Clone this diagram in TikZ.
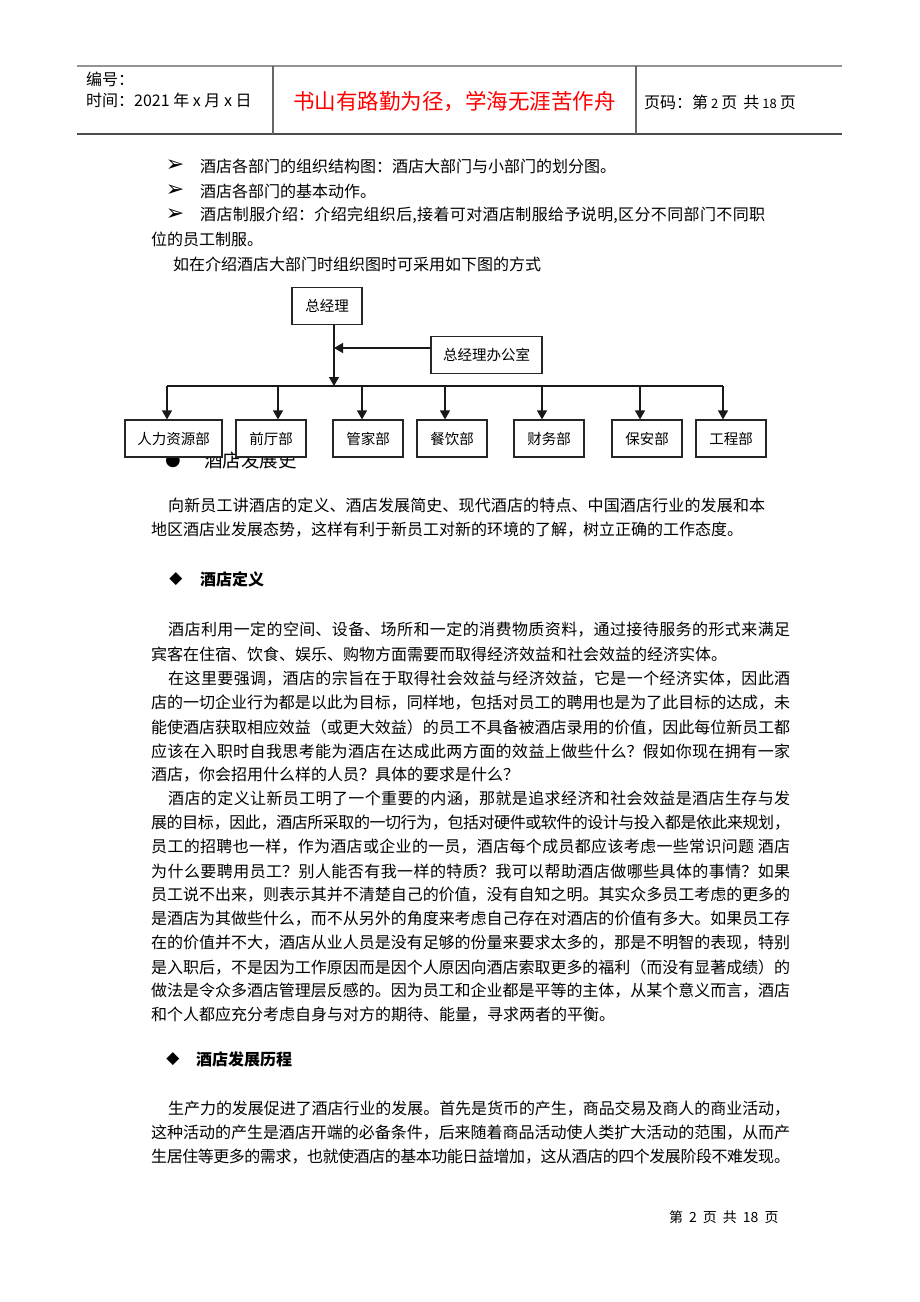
\documentclass[tikz,border=0pt]{standalone}
\usepackage{fontspec}
\setmainfont{Noto Sans CJK SC}
\newfontfamily\dejavu{DejaVu Sans}
\usetikzlibrary{arrows.meta}
\XeTeXlinebreaklocale "zh"
\XeTeXlinebreakskip=0pt plus 4pt minus 0.6pt
\newcommand{\jline}[2]{\parbox{#1pt}{\tolerance=10000\hbadness=10000\parfillskip=0pt\relax\noindent #2}}
\tikzset{
  body/.style={anchor=west, inner sep=0pt, font=\fontsize{16pt}{20pt}\selectfont},
  bodyb/.style={anchor=west, inner sep=0pt, font=\fontsize{16pt}{20pt}\selectfont\bfseries},
  sym/.style={inner sep=0pt, font=\dejavu\fontsize{22pt}{24pt}\selectfont},
  dia/.style={inner sep=0pt, font=\dejavu\fontsize{17pt}{19pt}\selectfont},
  hd/.style={anchor=west, inner sep=0pt, font=\fontsize{16pt}{18pt}\selectfont},
  motto/.style={inner sep=0pt, text=red, font=\fontsize{21.5pt}{24pt}\selectfont},
  orgbox/.style={draw=black!85, line width=1.2pt, fill=white, minimum height=37pt, inner sep=0pt, font=\fontsize{14.5pt}{16pt}\selectfont},
  conn/.style={line width=1.4pt, black!90},
  arr/.style={conn, -{Triangle[length=9pt,width=10pt]}},
}
\begin{document}
\begin{tikzpicture}[x=1pt,y=-1pt]
\useasboundingbox (0,0) rectangle (920,1302);
\fill[white] (0,0) rectangle (920,1302);

% header
\draw[gray!85, line width=1.5pt] (77,66) -- (842,66);
\draw[black!70, line width=1.2pt] (77,134) -- (842,134);
\draw[black!60, line width=1.1pt] (273,66) -- (273,134);
\draw[black!60, line width=1.1pt] (636,66) -- (636,134);
\node[hd] (num) at (86,79) {编号：};
\node[hd] (time) at (86,100) {时间：2021 年 x 月 x 日};
\node[motto] (mt) at (454.5,102) {书山有路勤为径，学海无涯苦作舟};
\node[hd] (pg) at (644,102) {页码：第\hspace{3pt}{\fontsize{13pt}{15pt}\selectfont 2}\hspace{3pt}页\hspace{6pt}共\hspace{3pt}{\fontsize{13pt}{15pt}\selectfont 18}\hspace{3pt}页};

% bullets
\node[sym] (s1) at (175,166) {➢};
\node[body] (t1) at (200,166) {酒店各部门的组织结构图：酒店大部门与小部门的划分图。};
\node[sym] (s2) at (175,191) {➢};
\node[body] (t2) at (200,191) {酒店各部门的基本动作。};
\node[sym] (s3) at (175,215) {➢};
\node[body] (t3) at (200,215) {\jline{565}{酒店制服介绍：介绍完组织后,接着可对酒店制服给予说明,区分不同部门不同职}};
\node[body] (t4) at (151,239) {位的员工制服。};
\node[body] (t5) at (173,264) {如在介绍酒店大部门时组织图时可采用如下图的方式};

% heading under the chart (partly hidden)
\node[inner sep=0pt, font=\dejavu\fontsize{18pt}{20pt}\selectfont] (s4) at (173,461) {●};
\node[anchor=west, inner sep=0pt, font=\fontsize{18.5pt}{20pt}\selectfont] (h0) at (204,460) {酒店发展史};

% org chart
\node[orgbox, minimum width=70pt] (gm) at (327,306) {总经理};
\node[orgbox, minimum width=111pt] (off) at (486.5,355) {总经理办公室};
\node[orgbox, minimum width=97pt] (hr) at (173.5,438.5) {人力资源部};
\node[orgbox, minimum width=70pt] (ft) at (271,438.5) {前厅部};
\node[orgbox, minimum width=70pt] (hk) at (368,438.5) {管家部};
\node[orgbox, minimum width=70pt] (fb) at (452,438.5) {餐饮部};
\node[orgbox, minimum width=70pt] (fin) at (549,438.5) {财务部};
\node[orgbox, minimum width=70pt] (sec) at (647,438.5) {保安部};
\node[orgbox, minimum width=70pt] (eng) at (731,438.5) {工程部};

\coordinate (trunk) at (334,386);
\coordinate (join) at (334,348);
\coordinate (b1) at (167,386);
\coordinate (b2) at (278,386);
\coordinate (b3) at (362,386);
\coordinate (b4) at (445,386);
\coordinate (b5) at (542,386);
\coordinate (b6) at (640,386);
\coordinate (b7) at (723,386);
\draw[arr] (trunk |- gm.south) -- (trunk);
\draw[arr] (join -| off.west) -- (join);
\draw[conn] (b1) -- (b7);
\foreach \b/\n in {b1/hr,b2/ft,b3/hk,b4/fb,b5/fin,b6/sec,b7/eng}{
  \draw[arr] (\b) -- (\b |- \n.north);
}

% paragraph 1
\node[body] (p1a) at (168,505) {\jline{597}{向新员工讲酒店的定义、酒店发展简史、现代酒店的特点、中国酒店行业的发展和本}};
\node[body] (p1b) at (151,530) {地区酒店业发展态势，这样有利于新员工对新的环境的了解，树立正确的工作态度。};

% heading 1
\node[dia] (d1) at (176,579) {◆};
\node[bodyb] (h1) at (200,579) {酒店定义};

% paragraph 2
\node[body] (p2a) at (168,630) {\jline{622}{酒店利用一定的空间、设备、场所和一定的消费物质资料，通过接待服务的形式来满足}};
\node[body] (p2b) at (151,654) {宾客在住宿、饮食、娱乐、购物方面需要而取得经济效益和社会效益的经济实体。};

% paragraph 3
\node[body] (p3a) at (168,679) {\jline{622}{在这里要强调，酒店的宗旨在于取得社会效益与经济效益，它是一个经济实体，因此酒}};
\node[body] (p3b) at (151,703) {\jline{639}{店的一切企业行为都是以此为目标，同样地，包括对员工的聘用也是为了此目标的达成，未}};
\node[body] (p3c) at (151,727) {\jline{639}{能使酒店获取相应效益（或更大效益）的员工不具备被酒店录用的价值，因此每位新员工都}};
\node[body] (p3d) at (151,751) {\jline{639}{应该在入职时自我思考能为酒店在达成此两方面的效益上做些什么？假如你现在拥有一家}};
\node[body] (p3e) at (151,775) {酒店，你会招用什么样的人员？具体的要求是什么？};

% paragraph 4
\node[body] (p4a) at (168,799) {\jline{622}{酒店的定义让新员工明了一个重要的内涵，那就是追求经济和社会效益是酒店生存与发}};
\node[body] (p4b) at (151,823) {\jline{639}{展的目标，因此，酒店所采取的一切行为，包括对硬件或软件的设计与投入都是依此来规划，}};
\node[body] (p4c) at (151,847) {\jline{639}{员工的招聘也一样，作为酒店或企业的一员，酒店每个成员都应该考虑一些常识问题 酒店}};
\node[body] (p4d) at (151,871) {\jline{639}{为什么要聘用员工？别人能否有我一样的特质？我可以帮助酒店做哪些具体的事情？如果}};
\node[body] (p4e) at (151,895) {\jline{639}{员工说不出来，则表示其并不清楚自己的价值，没有自知之明。其实众多员工考虑的更多的}};
\node[body] (p4f) at (151,919) {\jline{639}{是酒店为其做些什么，而不从另外的角度来考虑自己存在对酒店的价值有多大。如果员工存}};
\node[body] (p4g) at (151,943) {\jline{639}{在的价值并不大，酒店从业人员是没有足够的份量来要求太多的，那是不明智的表现，特别}};
\node[body] (p4h) at (151,967) {\jline{639}{是入职后，不是因为工作原因而是因个人原因向酒店索取更多的福利（而没有显著成绩）的}};
\node[body] (p4i) at (151,991) {\jline{639}{做法是令众多酒店管理层反感的。因为员工和企业都是平等的主体，从某个意义而言，酒店}};
\node[body] (p4j) at (151,1015) {和个人都应充分考虑自身与对方的期待、能量，寻求两者的平衡。};

% heading 2
\node[dia] (d2) at (173,1059) {◆};
\node[bodyb] (h2) at (196,1059) {酒店发展历程};

% paragraph 5
\node[body] (p5a) at (168,1109) {\jline{622}{生产力的发展促进了酒店行业的发展。首先是货币的产生，商品交易及商人的商业活动，}};
\node[body] (p5b) at (151,1133) {\jline{639}{这种活动的产生是酒店开端的必备条件，后来随着商品活动使人类扩大活动的范围，从而产}};
\node[body] (p5c) at (151,1157) {\jline{639}{生居住等更多的需求，也就使酒店的基本功能日益增加，这从酒店的四个发展阶段不难发现。}};

% footer
\node[anchor=west, inner sep=0pt, font=\fontsize{14pt}{16pt}\selectfont] (ft0) at (669,1217) {第\hspace{6pt}2\hspace{6pt}页\hspace{6pt}共\hspace{6pt}18\hspace{6pt}页};
\end{tikzpicture}
\end{document}
